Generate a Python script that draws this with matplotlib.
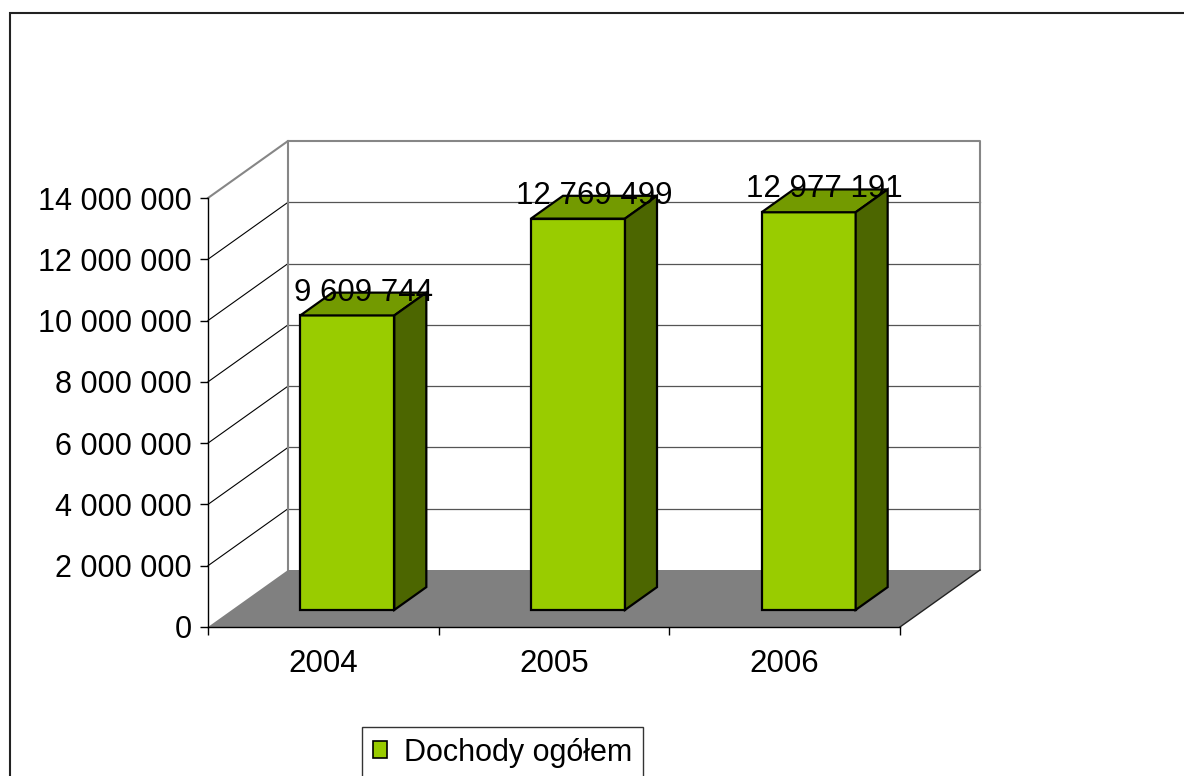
import matplotlib
matplotlib.use("Agg")
import matplotlib.pyplot as plt
from matplotlib.patches import Polygon, Rectangle, Patch
from matplotlib.lines import Line2D

# ---- data ----
categories = ["2004", "2005", "2006"]
values = [9609744, 12769499, 12977191]
series_name = "Dochody ogółem"
y_ticks = [0, 2000000, 4000000, 6000000, 8000000, 10000000, 12000000, 14000000]

def fmt(v):
    return f"{v:,.0f}".replace(",", " ")

plt.rcParams['font.family'] = ['Liberation Sans', 'DejaVu Sans']

W, H = 1184, 776
fig = plt.figure(figsize=(W / 100, H / 100), dpi=100)
fig.patch.set_facecolor('white')

# front plane of the pseudo-3D chart
x0, x1, yb, yt = 208, 900, 627, 198
ax = fig.add_axes([x0 / W, 1 - yb / H, (x1 - x0) / W, (yb - yt) / H])
n = len(categories)
ymax = y_ticks[-1]
ax.set_xlim(-0.5, n - 0.5)
ax.set_ylim(0, ymax)
ax.set_facecolor('none')
for s in ['top', 'right']:
    ax.spines[s].set_visible(False)
for s in ['left', 'bottom']:
    ax.spines[s].set_color('black')
    ax.spines[s].set_linewidth(1.0)
    ax.spines[s].set_zorder(5)

# depth offset (in data units) of the back wall
DX = 80 / ((x1 - x0) / n)
DY = 57 / (yb - yt) * ymax
L, R = -0.5, n - 0.5

frame_c = '#868686'
# back wall
ax.add_patch(Polygon([(L + DX, DY), (R + DX, DY), (R + DX, ymax + DY), (L + DX, ymax + DY)],
                     closed=True, facecolor='white', edgecolor='none', zorder=0, clip_on=False))
# side wall
ax.add_patch(Polygon([(L, 0), (L + DX, DY), (L + DX, ymax + DY), (L, ymax)],
                     closed=True, facecolor='white', edgecolor='none', zorder=0, clip_on=False))
# gridlines
for t in y_ticks[1:-1]:
    ax.add_line(Line2D([L, L + DX], [t, t + DY], color='black', lw=0.8, zorder=1, clip_on=False))
    ax.add_line(Line2D([L + DX, R + DX], [t + DY, t + DY], color='#555555', lw=0.9, zorder=1, clip_on=False))
# wall frame
ax.add_line(Line2D([L, L + DX, R + DX, R + DX], [ymax, ymax + DY, ymax + DY, DY],
                   color=frame_c, lw=1.5, zorder=1, clip_on=False))
ax.add_line(Line2D([L + DX, L + DX], [DY, ymax + DY], color=frame_c, lw=1.5, zorder=1, clip_on=False))
# floor
ax.add_patch(Polygon([(L, 0), (R, 0), (R + DX, DY), (L + DX, DY)],
                     closed=True, facecolor='#808080', edgecolor='none', zorder=2, clip_on=False))
ax.add_line(Line2D([R, R + DX], [0, DY], color='#222222', lw=1.0, zorder=2.1, clip_on=False))

# bars
f0, f1 = 0.3, 0.7
w = 94 / ((x1 - x0) / n)
front_c, top_c, side_c = '#99CC00', '#739A00', '#4C6600'
xs = [i + f0 * DX for i in range(n)]
ax.bar(xs, values, width=w, bottom=f0 * DY, color=front_c, edgecolor='black',
       linewidth=1.6, zorder=3, clip_on=False)
ddx, ddy = (f1 - f0) * DX, (f1 - f0) * DY
for xc, v in zip(xs, values):
    xl, xr = xc - w / 2, xc + w / 2
    b0 = f0 * DY
    ax.add_patch(Polygon([(xl, v + b0), (xr, v + b0), (xr + ddx, v + b0 + ddy), (xl + ddx, v + b0 + ddy)],
                         closed=True, facecolor=top_c, edgecolor='black', lw=1.6, zorder=3, clip_on=False))
    ax.add_patch(Polygon([(xr, b0), (xr + ddx, b0 + ddy), (xr + ddx, v + b0 + ddy), (xr, v + b0)],
                         closed=True, facecolor=side_c, edgecolor='black', lw=1.6, zorder=3, clip_on=False))

# data labels
for i, v in enumerate(values):
    ax.text(i + 0.5 * DX, v + f1 * DY, fmt(v), ha='center', va='center',
            fontsize=22.5, color='black', zorder=10, clip_on=False)

# axes ticks
ax.set_yticks(y_ticks)
ax.set_yticklabels([fmt(t) for t in y_ticks])
ax.tick_params(axis='y', direction='out', length=5.8, width=1.0, color='black', pad=6,
               labelsize=22, labelcolor='black')
ax.set_xticks(range(n))
ax.set_xticklabels(categories)
ax.set_xticks([k - 0.5 for k in range(n + 1)], minor=True)
ax.tick_params(axis='x', which='major', length=0, pad=16, labelsize=22.5, labelcolor='black')
ax.tick_params(axis='x', which='minor', direction='out', length=5.8, width=1.0, color='black')

# legend
leg = fig.legend(handles=[Patch(facecolor=front_c, edgecolor='black', linewidth=1.2)],
                 labels=[series_name], loc='upper left',
                 bbox_to_anchor=(362 / W, 1 - 727 / H), fontsize=22,
                 frameon=True, fancybox=False, edgecolor='black', borderpad=0.35,
                 handlelength=0.48, handleheight=0.48, handletextpad=0.55, borderaxespad=0)
leg.get_frame().set_linewidth(1.0)

# outer chart border
fig.add_artist(Rectangle((10 / W, -0.1), 1.2, (1 - 13 / H) + 0.1, transform=fig.transFigure,
                         fill=False, edgecolor='#222222', lw=1.5))

fig.savefig('out.png', dpi=100)
